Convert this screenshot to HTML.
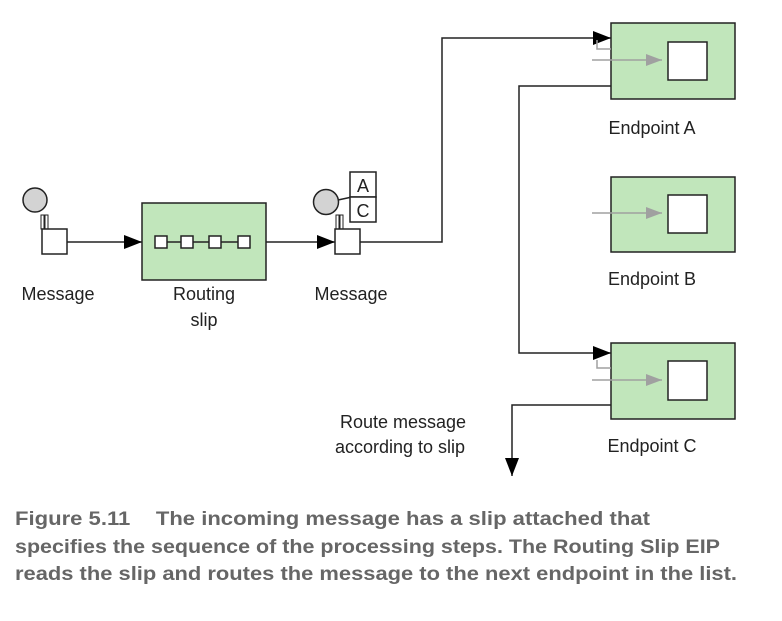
<!DOCTYPE html>
<html><head><style>
body{margin:0;background:#fff;}
svg{display:block;}
text{font-family:"Liberation Sans",sans-serif;}
</style></head><body>
<svg width="782" height="621" viewBox="0 0 782 621" xmlns="http://www.w3.org/2000/svg">
<defs>
<marker id="ab" markerWidth="18" markerHeight="14" refX="18" refY="7" orient="auto" markerUnits="userSpaceOnUse"><path d="M0,0 L18,7 L0,14 Z" fill="#000"/></marker>
<marker id="ag" markerWidth="16" markerHeight="12" refX="16" refY="6" orient="auto" markerUnits="userSpaceOnUse"><path d="M0,0 L16,6 L0,12 Z" fill="#a0a0a0"/></marker>
</defs>
<g stroke="#222" stroke-width="1.5" fill="none">
<circle cx="35" cy="200" r="12" fill="#d3d3d3"/>
<rect x="41" y="215" width="3" height="14" fill="#fff" stroke-width="1"/>
<rect x="45" y="215" width="3" height="14" fill="#fff" stroke-width="1"/>
<rect x="42" y="229" width="25" height="25" fill="#fff"/>
<line x1="67" y1="242" x2="142" y2="242" marker-end="url(#ab)"/>
<rect x="142" y="203" width="124" height="77" fill="#c1e6bb"/>
<line x1="160" y1="242" x2="246" y2="242"/>
<rect x="155" y="236" width="12" height="12" fill="#fff"/>
<rect x="181" y="236" width="12" height="12" fill="#fff"/>
<rect x="209" y="236" width="12" height="12" fill="#fff"/>
<rect x="238" y="236" width="12" height="12" fill="#fff"/>
<line x1="266" y1="242" x2="335" y2="242" marker-end="url(#ab)"/>
<line x1="338" y1="200" x2="352" y2="197"/>
<circle cx="326" cy="202" r="12.5" fill="#d3d3d3"/>
<rect x="336" y="215" width="3" height="14" fill="#fff" stroke-width="1"/>
<rect x="340" y="215" width="3" height="14" fill="#fff" stroke-width="1"/>
<rect x="335" y="229" width="25" height="25" fill="#fff"/>
<rect x="350" y="172" width="26" height="25" fill="#fff"/>
<rect x="350" y="197" width="26" height="25" fill="#fff"/>
<polyline points="360,242 442,242 442,38 611,38" marker-end="url(#ab)"/>
<polyline points="611,86 519,86 519,353 611,353" marker-end="url(#ab)"/>
<polyline points="611,405 512,405 512,476" marker-end="url(#ab)"/>
<rect x="611" y="23" width="124" height="76" fill="#c1e6bb"/>
<rect x="668" y="42" width="39" height="38" fill="#fff"/>
<rect x="611" y="177" width="124" height="75" fill="#c1e6bb"/>
<rect x="668" y="195" width="39" height="38" fill="#fff"/>
<rect x="611" y="343" width="124" height="76" fill="#c1e6bb"/>
<rect x="668" y="361" width="39" height="39" fill="#fff"/>
</g>
<g stroke="#a0a0a0" stroke-width="1.5" fill="none">
<polyline points="597,40 597,49 611,49"/>
<line x1="592" y1="60" x2="662" y2="60" marker-end="url(#ag)"/>
<line x1="592" y1="213" x2="662" y2="213" marker-end="url(#ag)"/>
<polyline points="597,360 597,368 611,368"/>
<line x1="592" y1="380" x2="662" y2="380" marker-end="url(#ag)"/>
</g>
<g font-size="18" fill="#222" text-anchor="middle">
<text x="363" y="192">A</text>
<text x="363" y="217">C</text>
<text x="58" y="300">Message</text>
<text x="204" y="300">Routing</text>
<text x="204" y="326">slip</text>
<text x="351" y="300">Message</text>
<text x="652" y="134">Endpoint A</text>
<text x="652" y="285">Endpoint B</text>
<text x="652" y="452">Endpoint C</text>
<text x="403" y="428">Route message</text>
<text x="400" y="453">according to slip</text>
</g>
<g font-size="19" font-weight="bold" fill="#666">
<text x="15" y="525" textLength="635" lengthAdjust="spacingAndGlyphs">Figure 5.11<tspan dx="22">The incoming message has a slip attached that</tspan></text>
<text x="15" y="553" textLength="705" lengthAdjust="spacingAndGlyphs">specifies the sequence of the processing steps. The Routing Slip EIP</text>
<text x="15" y="580" textLength="722" lengthAdjust="spacingAndGlyphs">reads the slip and routes the message to the next endpoint in the list.</text>
</g>
</svg>
</body></html>
